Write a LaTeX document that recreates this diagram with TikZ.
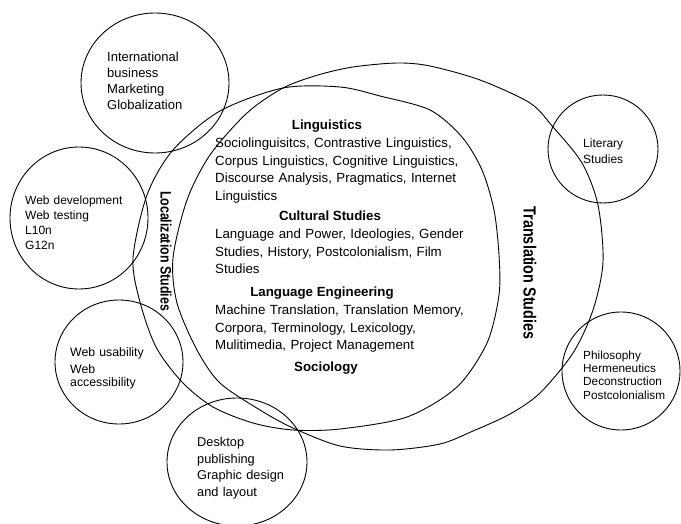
\documentclass[tikz,border=0pt]{standalone}
\usepackage{fontspec}
\setmainfont{Liberation Sans}
\usepackage{graphicx}
\begin{document}
\begin{tikzpicture}[x=1pt,y=-1pt,
  outline/.style={draw=black, line width=0.9pt},
  txt/.style={inner sep=0pt, anchor=base west, align=left, text width=#1},
  txt/.default=150pt,
  head/.style={inner sep=0pt, anchor=base, font=\fontsize{13.3}{17.6}\selectfont\bfseries},
  body/.style={txt=260pt, font=\fontsize{13.3}{17.6}\selectfont},
  vlabel/.style={inner sep=0pt, anchor=center, rotate=-90, font=\bfseries}
]
\useasboundingbox (0,0) rectangle (681,524);

% Localization Studies (left large shape)
\draw[outline] plot[smooth cycle] coordinates {
  (133,258) (140,302) (156,347) (182,382) (213,407) (253,423) (293,430)
  (340,429) (407,417) (457,387) (487,343) (499,295) (499,255) (494,210)
  (482,170) (462,137) (430,110) (380,96) (340,87) (283,88) (220,111)
  (173,150) (147,195)};

% Translation Studies (right large shape)
\draw[outline] plot[smooth cycle] coordinates {
  (173,258) (177,303) (197,350) (220,383) (260,410) (293,428) (340,446)
  (390,450) (440,444) (473,431) (510,414) (540,393) (573,353) (593,310)
  (603,262) (598,205) (582,163) (553,127) (530,103) (480,80) (430,66)
  (397,63) (353,67) (318,75) (283,88) (247,113) (210,155) (187,200)};

% small circles
\draw[outline] (155,83) ellipse [x radius=74pt, y radius=70pt];
\draw[outline] (79,218) ellipse [x radius=69pt, y radius=71pt];
\draw[outline] (119,362) ellipse [x radius=64pt, y radius=62pt];
\draw[outline] (237,462) ellipse [x radius=70pt, y radius=64pt];
\draw[outline] (603,149) ellipse [x radius=55pt, y radius=54pt];
\draw[outline] (621,371) ellipse [x radius=59pt, y radius=59pt];

% small circle texts
\node[txt, font=\fontsize{13}{16}\selectfont] (intl) at (107,61.5)
  {International\\business\\Marketing\\Globalization};
\node[txt, font=\fontsize{12}{15}\selectfont] (webdev) at (25,204.5)
  {Web development\\Web testing\\L10n\\G12n};
\node[txt, font=\fontsize{12.3}{15}\selectfont] (webuse) at (70,356.5)
  {Web usability\\[2.3pt]Web\\[-2.3pt]accessibility};
\node[txt, font=\fontsize{12.8}{16.7}\selectfont] (dtp) at (197,446.5)
  {Desktop\\publishing\\Graphic design\\and layout};
\node[txt, font=\fontsize{12}{16}\selectfont] (lit) at (583,147.5)
  {Literary\\Studies};
\node[txt, font=\fontsize{11.8}{13.5}\selectfont] (phil) at (583,359)
  {Philosophy\\Hermeneutics\\Deconstruction\\Postcolonialism};

% vertical labels
\node[vlabel] (loc) at (166,251)
  {\fontsize{12.4}{14}\selectfont\bfseries\scalebox{1}[1.22]{Localization Studies}};
\node[vlabel] (trans) at (530,273)
  {\fontsize{14.4}{16}\selectfont\bfseries\scalebox{1}[1.22]{Translation Studies}};

% core texts
\node[head] (h1) at (327,129.5) {Linguistics};
\node[body] (b1) at (215,147.5)
  {Sociolinguisitcs, Contrastive Linguistics,\\Corpus Linguistics, Cognitive Linguistics,\\Discourse Analysis, Pragmatics, Internet\\Linguistics};
\node[head] (h2) at (330,221) {Cultural Studies};
\node[body] (b2) at (215,238.5)
  {Language and Power, Ideologies, Gender\\Studies, History, Postcolonialism, Film\\Studies};
\node[head] (h3) at (322,296.5) {Language Engineering};
\node[body] (b3) at (215,314.5)
  {Machine Translation, Translation Memory,\\Corpora, Terminology, Lexicology,\\Mulitimedia, Project Management};
\node[head] (h4) at (326,371.5) {Sociology};
\end{tikzpicture}
\end{document}
